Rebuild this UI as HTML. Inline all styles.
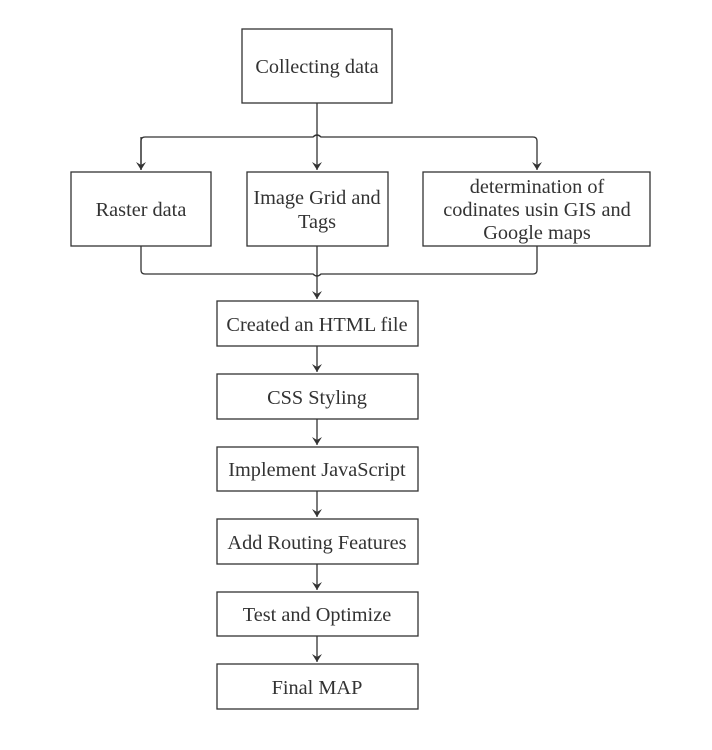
<!DOCTYPE html>
<html><head><style>
body{margin:0;background:#fff;}
svg text{font-family:"Liberation Serif",serif;font-size:20.3px;fill:#333;text-anchor:middle;}
</style></head><body>
<svg width="712" height="745" viewBox="0 0 712 745" xmlns="http://www.w3.org/2000/svg">
<defs><marker id="a" markerWidth="10" markerHeight="10" refX="8" refY="5" orient="auto" markerUnits="userSpaceOnUse">
<path d="M0,0 L8,5 L0,10 L3,5 Z" fill="#333"/></marker></defs>
<g fill="#fff" stroke="#333" stroke-width="1.3">
<rect x="242" y="29" width="150" height="74"/>
<rect x="71" y="172" width="140" height="74"/>
<rect x="247" y="172" width="141" height="74"/>
<rect x="423" y="172" width="227" height="74"/>
<rect x="217" y="301" width="201" height="45"/>
<rect x="217" y="374" width="201" height="45"/>
<rect x="217" y="447" width="201" height="44"/>
<rect x="217" y="519" width="201" height="45"/>
<rect x="217" y="592" width="201" height="44"/>
<rect x="217" y="664" width="201" height="45"/>
</g>
<g fill="none" stroke="#333" stroke-width="1.3">
<path d="M317,103 V170" marker-end="url(#a)"/>
<path d="M141,170 V141 Q141,137 145,137 H313 Q317,133 321,137 H533 Q537,137 537,141 V170" marker-end="url(#a)"/>
<path d="M141,137 V170" marker-end="url(#a)"/>
<path d="M141,246 V270 Q141,274 145,274 H313 Q317,278 321,274 H533 Q537,274 537,270 V246"/>
<path d="M317,246 V299" marker-end="url(#a)"/>
<path d="M317,346 V372" marker-end="url(#a)"/>
<path d="M317,419 V445" marker-end="url(#a)"/>
<path d="M317,491 V517" marker-end="url(#a)"/>
<path d="M317,564 V590" marker-end="url(#a)"/>
<path d="M317,636 V662" marker-end="url(#a)"/>
</g>
<text x="317" y="73">Collecting data</text>
<text x="141" y="216">Raster data</text>
<text x="317" y="204">Image Grid and</text>
<text x="317" y="228">Tags</text>
<text x="537" y="193">determination of</text>
<text x="537" y="216">codinates usin GIS and</text>
<text x="537" y="239">Google maps</text>
<text x="317" y="331">Created an HTML file</text>
<text x="317" y="404">CSS Styling</text>
<text x="317" y="476">Implement JavaScript</text>
<text x="317" y="549">Add Routing Features</text>
<text x="317" y="621">Test and Optimize</text>
<text x="317" y="694">Final MAP</text>
</svg>
</body></html>
